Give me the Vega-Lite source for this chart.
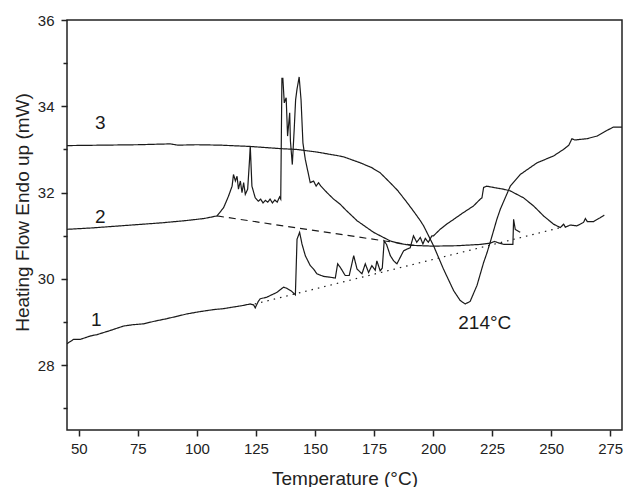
{
  "$schema": "https://vega.github.io/schema/vega-lite/v6.json",
  "width": 555,
  "height": 410,
  "autosize": {"type": "none"},
  "padding": {"left": 67, "top": 20, "right": 3, "bottom": 57},
  "background": "white",
  "config": {
    "view": {"stroke": "#222222", "strokeWidth": 1.5},
    "font": "Liberation Sans"
  },
  "datasets": {
    "curves": [
      {"s": "1", "T": 45, "mW": 28.5}, {"s": "1", "T": 47.8, "mW": 28.6}, {"s": "1", "T": 50.6, "mW": 28.6}, {"s": "1", "T": 55, "mW": 28.68}, {"s": "1", "T": 57.7, "mW": 28.71}, {"s": "1", "T": 63, "mW": 28.8}, {"s": "1", "T": 69, "mW": 28.91}, {"s": "1", "T": 73, "mW": 28.94}, {"s": "1", "T": 77.4, "mW": 28.96}, {"s": "1", "T": 82, "mW": 29.02}, {"s": "1", "T": 87.3, "mW": 29.08}, {"s": "1", "T": 92, "mW": 29.14}, {"s": "1", "T": 95.8, "mW": 29.19}, {"s": "1", "T": 101, "mW": 29.24}, {"s": "1", "T": 107.1, "mW": 29.29}, {"s": "1", "T": 111, "mW": 29.31}, {"s": "1", "T": 115.5, "mW": 29.35}, {"s": "1", "T": 119, "mW": 29.38}, {"s": "1", "T": 122.6, "mW": 29.42}, {"s": "1", "T": 124, "mW": 29.4}, {"s": "1", "T": 124.7, "mW": 29.33}, {"s": "1", "T": 126, "mW": 29.48}, {"s": "1", "T": 126.8, "mW": 29.54}, {"s": "1", "T": 129.7, "mW": 29.58}, {"s": "1", "T": 132, "mW": 29.64}, {"s": "1", "T": 133.9, "mW": 29.69}, {"s": "1", "T": 136.7, "mW": 29.81}, {"s": "1", "T": 138.2, "mW": 29.78}, {"s": "1", "T": 140, "mW": 29.72}, {"s": "1", "T": 141.7, "mW": 29.63}, {"s": "1", "T": 142.4, "mW": 30.92}, {"s": "1", "T": 143.5, "mW": 31.08}, {"s": "1", "T": 144.5, "mW": 30.81}, {"s": "1", "T": 145.9, "mW": 30.54}, {"s": "1", "T": 148, "mW": 30.31}, {"s": "1", "T": 149.4, "mW": 30.23}, {"s": "1", "T": 150.8, "mW": 30.12}, {"s": "1", "T": 153.6, "mW": 30.06}, {"s": "1", "T": 156.5, "mW": 30.04}, {"s": "1", "T": 158.6, "mW": 30.02}, {"s": "1", "T": 159.6, "mW": 30.35}, {"s": "1", "T": 160.7, "mW": 30.27}, {"s": "1", "T": 162.8, "mW": 30.08}, {"s": "1", "T": 164.5, "mW": 30.08}, {"s": "1", "T": 166.4, "mW": 30.54}, {"s": "1", "T": 167.8, "mW": 30.23}, {"s": "1", "T": 169.9, "mW": 30.12}, {"s": "1", "T": 171.3, "mW": 30.35}, {"s": "1", "T": 172.7, "mW": 30.15}, {"s": "1", "T": 174.1, "mW": 30.31}, {"s": "1", "T": 175.5, "mW": 30.2}, {"s": "1", "T": 176.2, "mW": 30.42}, {"s": "1", "T": 177.6, "mW": 30.19}, {"s": "1", "T": 178.5, "mW": 30.25}, {"s": "1", "T": 179.3, "mW": 30.88}, {"s": "1", "T": 180.3, "mW": 30.8}, {"s": "1", "T": 181.9, "mW": 30.54}, {"s": "1", "T": 183.3, "mW": 30.42}, {"s": "1", "T": 184.7, "mW": 30.35}, {"s": "1", "T": 186.1, "mW": 30.5}, {"s": "1", "T": 187.5, "mW": 30.65}, {"s": "1", "T": 188.9, "mW": 30.69}, {"s": "1", "T": 190.3, "mW": 30.72}, {"s": "1", "T": 191.7, "mW": 31.0}, {"s": "1", "T": 193.1, "mW": 30.85}, {"s": "1", "T": 194.6, "mW": 30.96}, {"s": "1", "T": 195.7, "mW": 30.81}, {"s": "1", "T": 196.7, "mW": 30.94}, {"s": "1", "T": 198, "mW": 30.85}, {"s": "1", "T": 199.5, "mW": 31.0}, {"s": "1", "T": 200.2, "mW": 31.0}, {"s": "1", "T": 203, "mW": 31.15}, {"s": "1", "T": 206, "mW": 31.28}, {"s": "1", "T": 208.7, "mW": 31.38}, {"s": "1", "T": 212.9, "mW": 31.54}, {"s": "1", "T": 217.1, "mW": 31.69}, {"s": "1", "T": 220, "mW": 31.85}, {"s": "1", "T": 220.7, "mW": 31.88}, {"s": "1", "T": 221.4, "mW": 32.12}, {"s": "1", "T": 222.8, "mW": 32.15}, {"s": "1", "T": 225.6, "mW": 32.12}, {"s": "1", "T": 229.8, "mW": 32.08}, {"s": "1", "T": 232.7, "mW": 32.04}, {"s": "1", "T": 235.5, "mW": 31.96}, {"s": "1", "T": 238.3, "mW": 31.88}, {"s": "1", "T": 242.6, "mW": 31.69}, {"s": "1", "T": 246.8, "mW": 31.46}, {"s": "1", "T": 251, "mW": 31.27}, {"s": "1", "T": 253.9, "mW": 31.19}, {"s": "1", "T": 255.3, "mW": 31.27}, {"s": "1", "T": 256, "mW": 31.2}, {"s": "1", "T": 258.1, "mW": 31.25}, {"s": "1", "T": 260.9, "mW": 31.23}, {"s": "1", "T": 263.7, "mW": 31.31}, {"s": "1", "T": 264.5, "mW": 31.4}, {"s": "1", "T": 265.3, "mW": 31.33}, {"s": "1", "T": 268, "mW": 31.33}, {"s": "1", "T": 270.8, "mW": 31.42}, {"s": "1", "T": 272.5, "mW": 31.48},

      {"s": "2", "T": 45, "mW": 31.15}, {"s": "2", "T": 55, "mW": 31.18}, {"s": "2", "T": 65, "mW": 31.22}, {"s": "2", "T": 75, "mW": 31.26}, {"s": "2", "T": 85, "mW": 31.3}, {"s": "2", "T": 95, "mW": 31.35}, {"s": "2", "T": 103, "mW": 31.4}, {"s": "2", "T": 108.5, "mW": 31.46}, {"s": "2", "T": 111.3, "mW": 31.65}, {"s": "2", "T": 113.4, "mW": 31.92}, {"s": "2", "T": 114.9, "mW": 32.15}, {"s": "2", "T": 115.5, "mW": 32.42}, {"s": "2", "T": 116.3, "mW": 32.27}, {"s": "2", "T": 117, "mW": 32.38}, {"s": "2", "T": 117.6, "mW": 32.08}, {"s": "2", "T": 118.4, "mW": 32.27}, {"s": "2", "T": 119.1, "mW": 32.0}, {"s": "2", "T": 119.8, "mW": 32.23}, {"s": "2", "T": 120.5, "mW": 31.96}, {"s": "2", "T": 121.5, "mW": 32.08}, {"s": "2", "T": 122.3, "mW": 32.77}, {"s": "2", "T": 122.6, "mW": 33.08}, {"s": "2", "T": 123.3, "mW": 32.15}, {"s": "2", "T": 124.7, "mW": 31.88}, {"s": "2", "T": 126, "mW": 31.8}, {"s": "2", "T": 127, "mW": 31.85}, {"s": "2", "T": 128, "mW": 31.76}, {"s": "2", "T": 129, "mW": 31.82}, {"s": "2", "T": 130, "mW": 31.78}, {"s": "2", "T": 131, "mW": 31.85}, {"s": "2", "T": 132, "mW": 31.76}, {"s": "2", "T": 133, "mW": 31.83}, {"s": "2", "T": 134, "mW": 31.78}, {"s": "2", "T": 135, "mW": 31.9}, {"s": "2", "T": 135.5, "mW": 31.85}, {"s": "2", "T": 136, "mW": 34.65}, {"s": "2", "T": 136.4, "mW": 34.65}, {"s": "2", "T": 137, "mW": 34.08}, {"s": "2", "T": 137.8, "mW": 34.2}, {"s": "2", "T": 138.4, "mW": 33.31}, {"s": "2", "T": 139.3, "mW": 33.85}, {"s": "2", "T": 139.6, "mW": 33.2}, {"s": "2", "T": 140.4, "mW": 32.65}, {"s": "2", "T": 141.2, "mW": 33.46}, {"s": "2", "T": 141.8, "mW": 34.15}, {"s": "2", "T": 142.4, "mW": 34.4}, {"s": "2", "T": 143.3, "mW": 34.68}, {"s": "2", "T": 144.1, "mW": 34.15}, {"s": "2", "T": 144.9, "mW": 33.15}, {"s": "2", "T": 145.9, "mW": 32.77}, {"s": "2", "T": 148, "mW": 32.23}, {"s": "2", "T": 149.4, "mW": 32.27}, {"s": "2", "T": 150.5, "mW": 32.15}, {"s": "2", "T": 151.5, "mW": 32.23}, {"s": "2", "T": 152.5, "mW": 32.15}, {"s": "2", "T": 155.1, "mW": 32.0}, {"s": "2", "T": 157.9, "mW": 31.85}, {"s": "2", "T": 160.7, "mW": 31.73}, {"s": "2", "T": 163, "mW": 31.6}, {"s": "2", "T": 167.8, "mW": 31.35}, {"s": "2", "T": 174.8, "mW": 31.08}, {"s": "2", "T": 181.9, "mW": 30.88}, {"s": "2", "T": 186, "mW": 30.82}, {"s": "2", "T": 190.3, "mW": 30.78}, {"s": "2", "T": 195, "mW": 30.77}, {"s": "2", "T": 200, "mW": 30.76}, {"s": "2", "T": 210, "mW": 30.77}, {"s": "2", "T": 220, "mW": 30.8}, {"s": "2", "T": 224.2, "mW": 30.83}, {"s": "2", "T": 226, "mW": 30.87}, {"s": "2", "T": 227.5, "mW": 30.84}, {"s": "2", "T": 230, "mW": 30.8}, {"s": "2", "T": 233.8, "mW": 30.8}, {"s": "2", "T": 234.1, "mW": 31.38}, {"s": "2", "T": 234.8, "mW": 31.15}, {"s": "2", "T": 236.9, "mW": 31.08},

      {"s": "3", "T": 45, "mW": 33.09}, {"s": "3", "T": 60, "mW": 33.1}, {"s": "3", "T": 75, "mW": 33.11}, {"s": "3", "T": 88.7, "mW": 33.13}, {"s": "3", "T": 92, "mW": 33.1}, {"s": "3", "T": 100, "mW": 33.11}, {"s": "3", "T": 110, "mW": 33.1}, {"s": "3", "T": 122.6, "mW": 33.07}, {"s": "3", "T": 135.3, "mW": 33.02}, {"s": "3", "T": 142.4, "mW": 33.0}, {"s": "3", "T": 150.8, "mW": 32.94}, {"s": "3", "T": 159.3, "mW": 32.86}, {"s": "3", "T": 162.1, "mW": 32.83}, {"s": "3", "T": 169.2, "mW": 32.69}, {"s": "3", "T": 174, "mW": 32.58}, {"s": "3", "T": 177.6, "mW": 32.46}, {"s": "3", "T": 182, "mW": 32.22}, {"s": "3", "T": 185, "mW": 32.05}, {"s": "3", "T": 189, "mW": 31.77}, {"s": "3", "T": 192, "mW": 31.55}, {"s": "3", "T": 194.6, "mW": 31.35}, {"s": "3", "T": 196, "mW": 31.23}, {"s": "3", "T": 200.2, "mW": 30.77}, {"s": "3", "T": 204.4, "mW": 30.23}, {"s": "3", "T": 208.7, "mW": 29.73}, {"s": "3", "T": 211.5, "mW": 29.5}, {"s": "3", "T": 213.6, "mW": 29.42}, {"s": "3", "T": 215.7, "mW": 29.48}, {"s": "3", "T": 218.6, "mW": 29.85}, {"s": "3", "T": 221.4, "mW": 30.38}, {"s": "3", "T": 222.8, "mW": 30.6}, {"s": "3", "T": 224.2, "mW": 30.85}, {"s": "3", "T": 227, "mW": 31.38}, {"s": "3", "T": 228.5, "mW": 31.62}, {"s": "3", "T": 232.7, "mW": 32.15}, {"s": "3", "T": 236.9, "mW": 32.42}, {"s": "3", "T": 244, "mW": 32.69}, {"s": "3", "T": 251, "mW": 32.85}, {"s": "3", "T": 255.2, "mW": 33.0}, {"s": "3", "T": 257.5, "mW": 33.1}, {"s": "3", "T": 258.8, "mW": 33.25}, {"s": "3", "T": 260, "mW": 33.22}, {"s": "3", "T": 265.2, "mW": 33.25}, {"s": "3", "T": 269.4, "mW": 33.31}, {"s": "3", "T": 272.9, "mW": 33.42}, {"s": "3", "T": 276.4, "mW": 33.52}, {"s": "3", "T": 280, "mW": 33.52},

      {"s": "2 baseline", "T": 108.5, "mW": 31.46}, {"s": "2 baseline", "T": 193, "mW": 30.77},
      {"s": "1 baseline", "T": 124.5, "mW": 29.42}, {"s": "1 baseline", "T": 254, "mW": 31.19}
    ],
    "labels": [
      {"T": 59.1, "mW": 33.48, "label": "3"},
      {"T": 59.1, "mW": 31.29, "label": "2"},
      {"T": 57.4, "mW": 28.91, "label": "1"},
      {"T": 221.9, "mW": 28.83, "label": "214°C"}
    ]
  },
  "layer": [
    {
      "data": {"name": "curves"},
      "mark": {"type": "line", "strokeWidth": 1.2, "color": "#1a1a1a", "clip": true},
      "encoding": {
        "x": {
          "field": "T", "type": "quantitative",
          "scale": {"domain": [45, 280], "nice": false, "zero": false},
          "axis": {
            "title": "Temperature (°C)",
            "values": [50, 62.5, 75, 87.5, 100, 112.5, 125, 137.5, 150, 162.5, 175, 187.5, 200, 212.5, 225, 237.5, 250, 262.5, 275],
            "labelExpr": "datum.value % 25 === 0 ? datum.label : ''",
            "tickSize": {"condition": {"test": "datum.value % 25 === 0", "value": 6}, "value": 4},
            "tickWidth": 1.5, "tickColor": "#222222",
            "domain": false, "grid": false,
            "labelFont": "Liberation Sans", "labelFontSize": 15, "labelColor": "#222222",
            "labelPadding": 5, "labelFlush": false, "labelOverlap": false, "labelBound": false,
            "titleFont": "Liberation Sans", "titleFontSize": 19, "titleFontWeight": "normal", "titleColor": "#222222",
            "titleBaseline": "alphabetic", "titleY": 54
          }
        },
        "y": {
          "field": "mW", "type": "quantitative",
          "scale": {"domain": [26.5, 36], "nice": false, "zero": false},
          "axis": {
            "title": "Heating Flow Endo up (mW)",
            "values": [27, 28, 29, 30, 31, 32, 33, 34, 35, 36],
            "labelExpr": "datum.value % 2 === 0 ? datum.label : ''",
            "tickSize": {"condition": {"test": "datum.value % 2 === 0", "value": 6}, "value": 4},
            "tickWidth": 1.5, "tickColor": "#222222",
            "domain": false, "grid": false,
            "labelFont": "Liberation Sans", "labelFontSize": 15, "labelColor": "#222222",
            "labelPadding": 7, "labelFlush": false, "labelOverlap": false, "labelBound": false,
            "titleFont": "Liberation Sans", "titleFontSize": 19, "titleFontWeight": "normal", "titleColor": "#222222",
            "titleAngle": -90, "titleAlign": "center", "titleBaseline": "alphabetic",
            "titleX": -38.7, "titleY": 192
          }
        },
        "detail": {"field": "s", "type": "nominal"},
        "strokeDash": {
          "field": "s", "type": "nominal",
          "scale": {"domain": ["1", "2", "3", "2 baseline", "1 baseline"], "range": [[1, 0], [1, 0], [1, 0], [7, 5], [1.5, 5]]},
          "legend": null
        }
      }
    },
    {
      "data": {"name": "labels"},
      "mark": {"type": "text", "font": "Liberation Sans", "fontSize": 19, "color": "#1a1a1a", "align": "center", "baseline": "alphabetic"},
      "encoding": {
        "x": {"field": "T", "type": "quantitative"},
        "y": {"field": "mW", "type": "quantitative"},
        "text": {"field": "label"}
      }
    }
  ]
}
